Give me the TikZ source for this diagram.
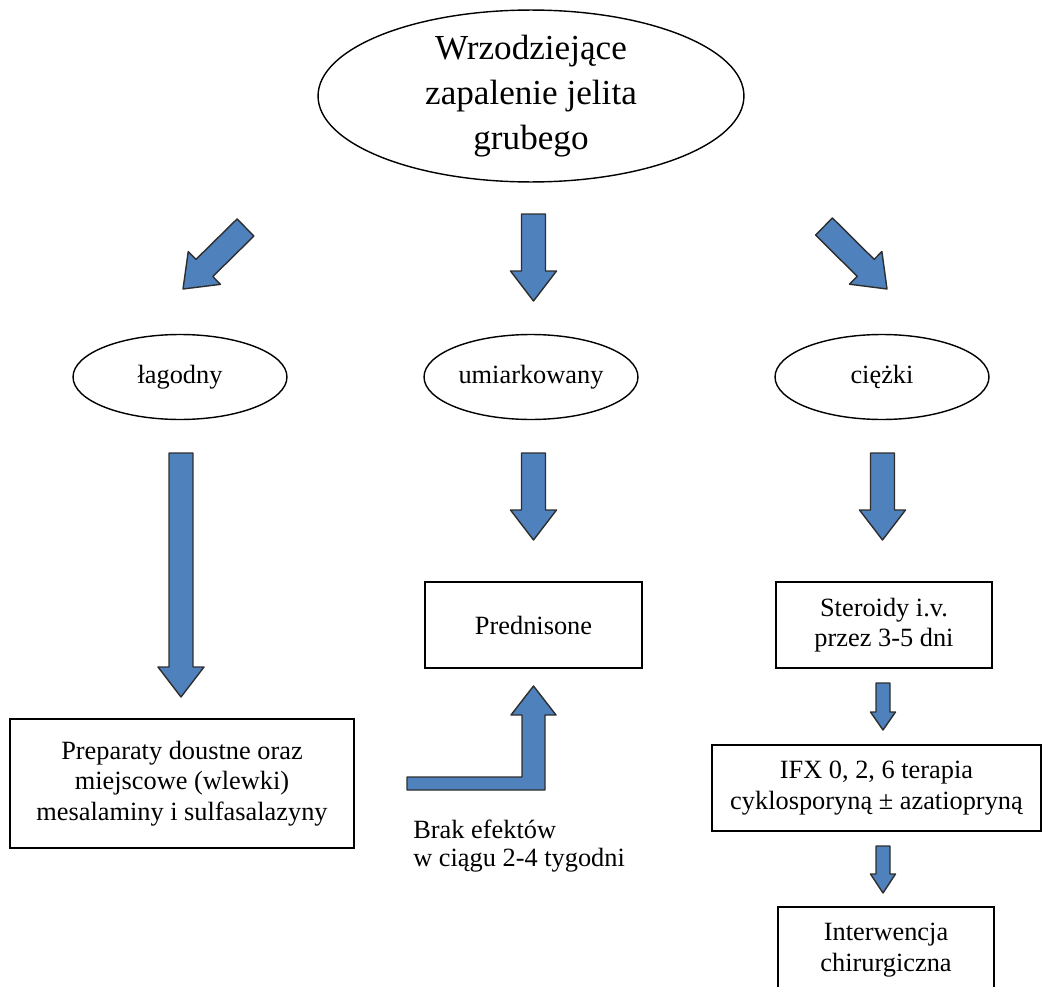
\documentclass[tikz,border=0pt]{standalone}
\usepackage{fontspec}
\setmainfont{Liberation Serif}
\usepackage{tikz}
\usetikzlibrary{shapes.geometric,calc}

\definecolor{arrowblue}{HTML}{4F81BD}
\definecolor{arrowline}{HTML}{2E2E2E}

\tikzset{
  oval/.style={draw, ellipse, line width=0.8pt, align=center, inner sep=0pt},
  box/.style={draw, rectangle, line width=0.8pt, align=center, inner sep=0pt},
  smalltext/.style={font=\fontsize{15}{17.3}\selectfont},
  arrowfill/.style={fill=arrowblue, draw=arrowline, line width=0.8pt, line join=round},
}

% block arrow: tail, tip, half shaft, half head, head length
\newcommand{\fatarrow}[5]{%
  \coordinate (hb) at ($(#2)!#5!(#1)$);
  \filldraw[arrowfill] ($(#1)!#3!90:(#2)$) -- ($(hb)!#3!-90:(#1)$) -- ($(hb)!#4!-90:(#1)$) -- (#2)
    -- ($(hb)!#4!90:(#1)$) -- ($(hb)!#3!90:(#1)$) -- ($(#1)!#3!-90:(#2)$) -- cycle;
}

\begin{document}
\begin{tikzpicture}[x=0.02cm, y=-0.02cm]
\useasboundingbox (0,0) rectangle (1046,987);

% ellipses
\node[oval, minimum width=8.52cm, minimum height=3.36cm, font=\fontsize{20}{25.5}\selectfont] (root) at (531,96) {Wrzodziejące\\zapalenie jelita\\grubego};
\node[oval, smalltext, minimum width=4.28cm, minimum height=1.7cm] (mild) at (180,377) {łagodny};
\node[oval, smalltext, minimum width=4.28cm, minimum height=1.7cm] (moderate) at (531,377) {umiarkowany};
\node[oval, smalltext, minimum width=4.28cm, minimum height=1.7cm] (severe) at (882,377) {ciężki};

% boxes
\node[box, smalltext, minimum width=6.88cm, minimum height=2.58cm] (oral) at (182,783.5) {Preparaty doustne oraz\\miejscowe (wlewki)\\mesalaminy i sulfasalazyny};
\node[box, smalltext, minimum width=4.34cm, minimum height=1.72cm] (pred) at (533.5,625) {Prednisone};
\node[box, smalltext, minimum width=4.32cm, minimum height=1.72cm] (steroid) at (884,625) {Steroidy i.v.\\przez 3-5 dni};
\node[box, smalltext, minimum width=6.58cm, minimum height=1.72cm] (ifx) at (876.5,788) {IFX 0, 2, 6 terapia\\cyklosporyną ± azatiopryną};
\node[box, smalltext, minimum width=4.32cm, minimum height=1.72cm] (surgery) at (886,950) {Interwencja\\chirurgiczna};
\node[smalltext, font=\fontsize{15}{16}\selectfont, anchor=west, align=left, inner sep=0pt] (noeffect) at (413,846) {Brak efektów\\w ciągu 2-4 tygodni};

% arrow ends
\coordinate (a1t) at (245.5,227.5); \coordinate (a1h) at (183,289);
\coordinate (a2t) at (533.5,214);   \coordinate (a2h) at (533.5,301);
\coordinate (a3t) at (824,226.5);   \coordinate (a3h) at (887,289);
\coordinate (a4t) at (181,453);     \coordinate (a4h) at (181,697);
\coordinate (a5t) at (533.5,453);   \coordinate (a5h) at (533.5,540);
\coordinate (a6t) at (882.5,453);   \coordinate (a6h) at (882.5,540);
\coordinate (a7t) at (883,683);     \coordinate (a7h) at (883,730);
\coordinate (a8t) at (883,846);     \coordinate (a8h) at (883,893);

\fatarrow{a1t}{a1h}{0.24cm}{0.46cm}{0.6cm}
\fatarrow{a2t}{a2h}{0.24cm}{0.46cm}{0.6cm}
\fatarrow{a3t}{a3h}{0.24cm}{0.46cm}{0.6cm}
\fatarrow{a4t}{a4h}{0.24cm}{0.46cm}{0.6cm}
\fatarrow{a5t}{a5h}{0.24cm}{0.46cm}{0.6cm}
\fatarrow{a6t}{a6h}{0.24cm}{0.46cm}{0.6cm}
\fatarrow{a7t}{a7h}{0.14cm}{0.25cm}{0.36cm}
\fatarrow{a8t}{a8h}{0.14cm}{0.25cm}{0.38cm}

% bent arrow back to prednisone
\filldraw[arrowfill] (407,777) -- (522,777) -- (522,715) -- (511,715) -- (533.5,686)
  -- (556,715) -- (545,715) -- (545,790) -- (407,790) -- cycle;
\end{tikzpicture}
\end{document}
